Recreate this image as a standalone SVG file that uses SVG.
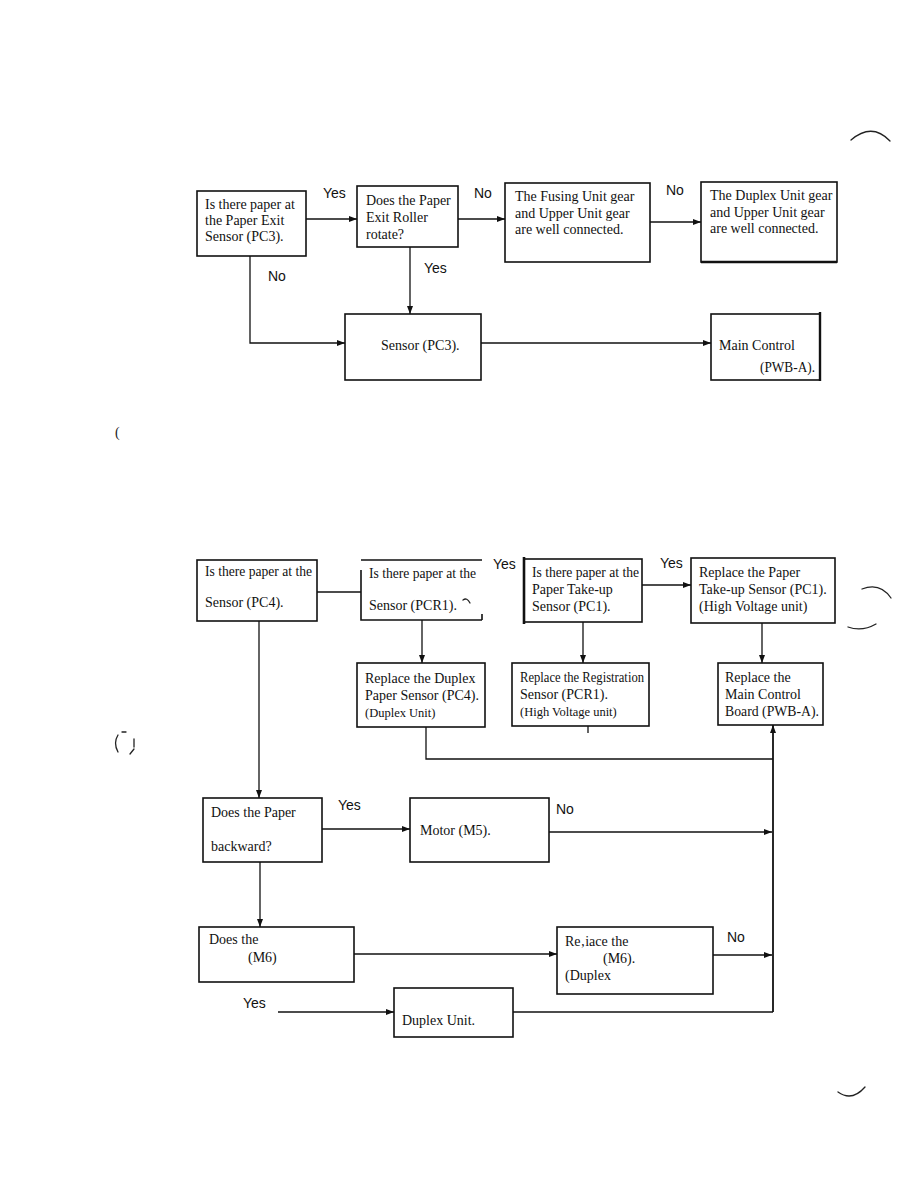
<svg xmlns="http://www.w3.org/2000/svg" width="918" height="1188" viewBox="0 0 918 1188">
<style>
.box{fill:#fff;stroke:#111;stroke-width:1.6}
.t{font-family:"Liberation Serif","Times New Roman",serif;font-size:14px;fill:#111}
.s{font-size:12.5px}
.lbl{font-family:"Liberation Sans",Arial,sans-serif;font-size:14px;fill:#111}
.conn path{fill:none;stroke:#111;stroke-width:1.3}
.mk{fill:none;stroke:#222;stroke-width:1.3;stroke-linecap:round}
</style>
<defs>
<marker id="ah" markerWidth="8" markerHeight="6" refX="8" refY="3" orient="auto" markerUnits="userSpaceOnUse"><path d="M0,0 L8,3 L0,6 z" fill="#111"/></marker>
</defs>
<rect width="918" height="1188" fill="#fff"/>

<g class="conn">
<path d="M306,219 H357" marker-end="url(#ah)"/>
<path d="M458,219 H505" marker-end="url(#ah)"/>
<path d="M650,222 H701" marker-end="url(#ah)"/>
<path d="M250,256 V343 H345" marker-end="url(#ah)"/>
<path d="M410,247 V314" marker-end="url(#ah)"/>
<path d="M481,343 H711" marker-end="url(#ah)"/>
<path d="M317,592 H361"/>
<path d="M642,585 H691" marker-end="url(#ah)"/>
<path d="M422,620 V663" marker-end="url(#ah)"/>
<path d="M583,622 V663" marker-end="url(#ah)"/>
<path d="M762,623 V663" marker-end="url(#ah)"/>
<path d="M259,621 V798" marker-end="url(#ah)"/>
<path d="M426,727 V759 H773"/>
<path d="M773,1012 V725" marker-end="url(#ah)" style="stroke-width:1.8"/>
<path d="M322,829 H410" marker-end="url(#ah)"/>
<path d="M549,832 H772" marker-end="url(#ah)"/>
<path d="M260,862 V927" marker-end="url(#ah)"/>
<path d="M354,954 H557" marker-end="url(#ah)"/>
<path d="M713,955 H772" marker-end="url(#ah)"/>
<path d="M278,1012 H394" marker-end="url(#ah)"/>
<path d="M513,1012 H773"/>
<path d="M588,726 V733"/>
</g>

<g id="labels">
<text class="lbl" x="323" y="198">Yes</text>
<text class="lbl" x="474" y="198">No</text>
<text class="lbl" x="666" y="195">No</text>
<text class="lbl" x="268" y="281">No</text>
<text class="lbl" x="424" y="273">Yes</text>
<text class="lbl" x="493" y="569">Yes</text>
<text class="lbl" x="660" y="568">Yes</text>
<text class="lbl" x="338" y="810">Yes</text>
<text class="lbl" x="556" y="814">No</text>
<text class="lbl" x="727" y="942">No</text>
<text class="lbl" x="243" y="1008">Yes</text>
</g>

<g id="nA"><rect class="box" x="197" y="191" width="109" height="65"/>
<text class="t" x="205" y="209">Is there paper at</text>
<text class="t" x="205" y="225">the Paper Exit</text>
<text class="t" x="205" y="241">Sensor (PC3).</text></g>

<g id="nB"><rect class="box" x="357" y="186" width="101" height="61"/>
<text class="t" x="366" y="205">Does the Paper</text>
<text class="t" x="366" y="222">Exit Roller</text>
<text class="t" x="366" y="239">rotate?</text></g>

<g id="nC"><rect class="box" x="505" y="183" width="145" height="79"/>
<text class="t" x="515" y="201">The Fusing Unit gear</text>
<text class="t" x="515" y="218">and Upper Unit gear</text>
<text class="t" x="515" y="234">are well connected.</text></g>

<g id="nD"><rect class="box" x="701" y="182" width="136" height="80"/>
<path d="M701,262 H837" stroke="#111" stroke-width="2.6"/>
<text class="t" x="710" y="200">The Duplex Unit gear</text>
<text class="t" x="710" y="217">and Upper Unit gear</text>
<text class="t" x="710" y="233">are well connected.</text></g>

<g id="nE"><rect class="box" x="345" y="314" width="136" height="66"/>
<text class="t" x="381" y="350">Sensor (PC3).</text></g>

<g id="nF"><rect class="box" x="711" y="314" width="109" height="66"/>
<path d="M820,312 V381" stroke="#111" stroke-width="2.4"/>
<text class="t" x="719" y="350">Main Control</text>
<text class="t" x="760" y="372" textLength="55" lengthAdjust="spacingAndGlyphs">(PWB-A).</text></g>

<g id="nG"><rect class="box" x="197" y="560" width="120" height="61"/>
<text class="t" x="205" y="576" textLength="107" lengthAdjust="spacingAndGlyphs">Is there paper at the</text>
<text class="t" x="205" y="607">Sensor (PC4).</text></g>

<g id="nH"><path d="M361,560 H482 M361,570 V620 H482 M482,614 V620" fill="none" stroke="#111" stroke-width="1.6"/>
<text class="t" x="369" y="578" textLength="107" lengthAdjust="spacingAndGlyphs">Is there paper at the</text>
<text class="t" x="369" y="610">Sensor (PCR1).</text>
<path d="M463,600 q4,-3 7,3" class="mk" stroke-width="1"/></g>

<g id="nI"><rect class="box" x="524" y="559" width="118" height="63"/>
<path d="M524,557 V624" stroke="#111" stroke-width="2.6"/>
<text class="t" x="532" y="577" textLength="107" lengthAdjust="spacingAndGlyphs">Is there paper at the</text>
<text class="t" x="532" y="594">Paper Take-up</text>
<text class="t" x="532" y="611">Sensor (PC1).</text></g>

<g id="nJ"><rect class="box" x="691" y="558" width="144" height="65"/>
<text class="t" x="699" y="577">Replace the Paper</text>
<text class="t" x="699" y="594">Take-up Sensor (PC1).</text>
<text class="t" x="699" y="611">(High Voltage unit)</text></g>

<g id="nL"><rect class="box" x="357" y="663" width="128" height="64"/>
<text class="t" x="365" y="683">Replace the Duplex</text>
<text class="t" x="365" y="700">Paper Sensor (PC4).</text>
<text class="t s" x="365" y="717">(Duplex Unit)</text></g>

<g id="nM"><rect class="box" x="512" y="663" width="137" height="63"/>
<text class="t" x="520" y="682" textLength="124" lengthAdjust="spacingAndGlyphs">Replace the Registration</text>
<text class="t" x="520" y="699">Sensor (PCR1).</text>
<text class="t s" x="520" y="716">(High Voltage unit)</text></g>

<g id="nN"><rect class="box" x="718" y="663" width="105" height="62"/>
<text class="t" x="725" y="682">Replace the</text>
<text class="t" x="725" y="699">Main Control</text>
<text class="t" x="725" y="716" textLength="94" lengthAdjust="spacingAndGlyphs">Board (PWB-A).</text></g>

<g id="nK"><rect class="box" x="203" y="798" width="119" height="64"/>
<text class="t" x="211" y="817">Does the Paper</text>
<text class="t" x="211" y="851">backward?</text></g>

<g id="nO"><rect class="box" x="410" y="798" width="139" height="64"/>
<text class="t" x="420" y="835">Motor (M5).</text></g>

<g id="nP"><rect class="box" x="199" y="927" width="155" height="55"/>
<text class="t" x="209" y="944">Does the</text>
<text class="t" x="248" y="962">(M6)</text></g>

<g id="nQ"><rect class="box" x="557" y="927" width="156" height="67"/>
<text class="t" x="565" y="946">Re‚iace the</text>
<text class="t" x="603" y="963">(M6).</text>
<text class="t" x="565" y="980">(Duplex</text></g>

<g id="nR"><rect class="box" x="394" y="988" width="119" height="49"/>
<text class="t" x="402" y="1025">Duplex Unit.</text></g>

<g id="marks">
<text x="115" y="437" style="font-family:'Liberation Serif',serif;font-size:14px;fill:#222">(</text>
<path class="mk" d="M851,140 Q872,122 890,141"/>
<path class="mk" d="M862,589 Q880,582 891,598" stroke-width="1.8"/>
<path class="mk" d="M848,627 Q862,632 876,624" stroke-width="0.9"/>
<path class="mk" d="M838,1092 Q852,1102 865,1087"/>
<path class="mk" d="M118,735 Q113,743 118,752 M122,732 h4 M134,739 v8 M134,749 l-4,5" stroke-width="1"/>
</g>
</svg>
